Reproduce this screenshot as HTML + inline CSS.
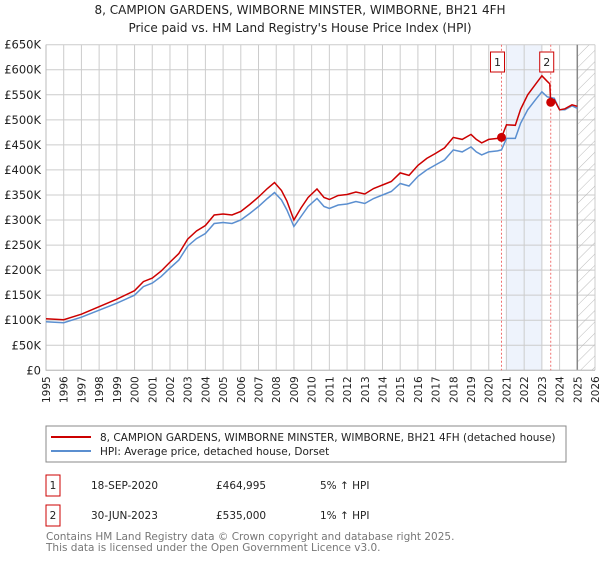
<!DOCTYPE html>
<html><head><meta charset="utf-8"><style>
body{margin:0;background:#fff;font-family:"DejaVu Sans","Liberation Sans",sans-serif;}
svg text{font-family:"DejaVu Sans","Liberation Sans",sans-serif;}
</style></head><body>
<svg id="chart" width="600" height="560" xmlns="http://www.w3.org/2000/svg">
<defs><pattern id="hatch" width="8" height="8" patternUnits="userSpaceOnUse" patternTransform="rotate(45)"><line x1="0" y1="0" x2="0" y2="8" stroke="#bbb" stroke-width="1"/></pattern></defs>
<text x="300" y="14" text-anchor="middle" font-size="12" fill="#222">8, CAMPION GARDENS, WIMBORNE MINSTER, WIMBORNE, BH21 4FH</text>
<text x="300" y="32" text-anchor="middle" font-size="12" fill="#222">Price paid vs. HM Land Registry's House Price Index (HPI)</text>
<g id="grid"></g><g id="marks"></g>
<rect x="46" y="426" width="520" height="36" fill="#fff" stroke="#888"/>
<line x1="51" y1="437" x2="91" y2="437" stroke="#cc0000" stroke-width="2"/>
<text x="100" y="441" font-size="10.5" fill="#222">8, CAMPION GARDENS, WIMBORNE MINSTER, WIMBORNE, BH21 4FH (detached house)</text>
<line x1="51" y1="451" x2="91" y2="451" stroke="#5b8fd0" stroke-width="2"/>
<text x="100" y="455" font-size="10.5" fill="#222">HPI: Average price, detached house, Dorset</text>
<g font-size="10.5" fill="#222">
<rect x="46" y="475" width="14" height="21" fill="none" stroke="#cc0000"/>
<text x="53" y="489" text-anchor="middle">1</text>
<text x="91" y="489">18-SEP-2020</text>
<text x="216" y="489">£464,995</text>
<text x="320" y="489">5% ↑ HPI</text>
<rect x="46" y="505" width="14" height="21" fill="none" stroke="#cc0000"/>
<text x="53" y="519" text-anchor="middle">2</text>
<text x="91" y="519">30-JUN-2023</text>
<text x="216" y="519">£535,000</text>
<text x="320" y="519">1% ↑ HPI</text>
</g>
<text x="46" y="540" font-size="10.5" fill="#777">Contains HM Land Registry data © Crown copyright and database right 2025.</text>
<text x="46" y="551" font-size="10.5" fill="#777">This data is licensed under the Open Government Licence v3.0.</text>
</svg>
<script>
const yearTicks=[1995,1996,1997,1998,1999,2000,2001,2002,2003,2004,2005,2006,2007,2008,2009,2010,2011,2012,2013,2014,2015,2016,2017,2018,2019,2020,2021,2022,2023,2024,2025,2026];
const valueTicks=[0,50000,100000,150000,200000,250000,300000,350000,400000,450000,500000,550000,600000,650000];
const valueLabels=["£0","£50K","£100K","£150K","£200K","£250K","£300K","£350K","£400K","£450K","£500K","£550K","£600K","£650K"];
const hpiDates=[1995,1996,1997,1998,1999,2000,2000.5,2001,2001.5,2002,2002.5,2003,2003.5,2004,2004.5,2005,2005.5,2006,2006.5,2007,2007.5,2007.9,2008.3,2008.6,2009,2009.4,2009.8,2010.3,2010.7,2011,2011.5,2012,2012.5,2013,2013.5,2014,2014.5,2015,2015.5,2016,2016.5,2017,2017.5,2018,2018.5,2019,2019.3,2019.6,2020,2020.5,2020.72,2021,2021.5,2021.8,2022.2,2022.7,2023,2023.3,2023.7,2024,2024.3,2024.7,2025];
const hpiValues=[97,95,106,120,134,150,167,174,187,204,220,248,263,273,293,295,293,300,313,327,343,355,340,320,287,307,327,343,327,323,330,332,337,333,343,350,357,373,368,387,400,410,420,440,436,446,436,430,436,438,440,463,463,493,520,543,556,546,543,520,520,528,523];
const propDates=[1995,1996,1997,1998,1999,2000,2000.5,2001,2001.5,2002,2002.5,2003,2003.5,2004,2004.5,2005,2005.5,2006,2006.5,2007,2007.5,2007.9,2008.3,2008.6,2009,2009.4,2009.8,2010.3,2010.7,2011,2011.5,2012,2012.5,2013,2013.5,2014,2014.5,2015,2015.5,2016,2016.5,2017,2017.5,2018,2018.5,2019,2019.3,2019.6,2020,2020.5,2020.72,2021,2021.5,2021.8,2022.2,2022.7,2023,2023.3,2023.45,2023.5,2023.7,2024,2024.3,2024.7,2025];
const propValues=[103,101,112,127,142,159,177,184,198,216,233,262,278,289,310,312,310,317,331,346,363,375,359,338,300,324,345,362,345,341,349,351,356,352,363,370,377,394,389,409,423,433,444,465,461,471,461,454,461,463,465,490,489,521,550,574,588,577,572,535,540,520,522,530,527];
const saleDates=[2020.72,2023.5];
const salePrices=[464995,535000];
const saleLabels=["1","2"];
const L=46,R=595,T=44.7,B=370.3;
const x=d=>L+(d-1995)/(2026-1995)*(R-L);
const y=v=>B-v/650000*(B-T);
const NS="http://www.w3.org/2000/svg";
function mk(parent,tag,attrs){const e=document.createElementNS(NS,tag);for(const k in attrs)e.setAttribute(k,attrs[k]);parent.appendChild(e);return e;}
const g=document.getElementById('grid'),m=document.getElementById('marks');
let e=mk(g,'rect',{x:x(2020.95),y:T,width:x(2023.0)-x(2020.95),height:B-T,fill:'#eef3fc'});


yearTicks.forEach(t=>{const l=mk(g,'line',{x1:x(t),x2:x(t),y1:T,y2:B,stroke:'#ccc'});


const tx=mk(g,'text',{x:0,y:0,transform:`translate(${x(t)+4},${B+6}) rotate(-90)`,'text-anchor':'end','font-size':'10.5',fill:'#222'});tx.textContent=t;

});
valueTicks.forEach((v,i)=>{const l=mk(g,'line',{x1:L,x2:R,y1:y(v),y2:y(v),stroke:'#ccc'});


const tx=mk(g,'text',{x:L-5,y:y(v)+4,'text-anchor':'end','font-size':'11.5',fill:'#222'});tx.textContent=valueLabels[i];

});
e=mk(g,'rect',{x:x(2025),y:T,width:R-x(2025),height:B-T,fill:'url(#hatch)'});


e=mk(g,'line',{x1:x(2025),x2:x(2025),y1:T,y2:B,stroke:'#888','stroke-width':1.5});


e=mk(g,'path',{d:`M${L},${T}V${B}H${R}`,fill:'none',stroke:'#bbb'});


saleDates.forEach((d,i)=>{const l=mk(m,'line',{x1:x(d),x2:x(d),y1:T,y2:B,stroke:'#f07070','stroke-dasharray':'2,2'});


const r=mk(m,'rect',{x:x(d)-11,y:52,width:14,height:20,fill:'#fff',stroke:'#cc0000'});


const t=mk(m,'text',{x:x(d)-4,y:66,'text-anchor':'middle','font-size':'11',fill:'#222'});t.textContent=saleLabels[i];

});
const line=(ds,vs)=>ds.map((d,i)=>(i?'L':'M')+x(d).toFixed(1)+','+y(vs[i]*1000).toFixed(1)).join('');
e=mk(m,'path',{d:line(hpiDates,hpiValues),fill:'none',stroke:'#5b8fd0','stroke-width':1.5});


e=mk(m,'path',{d:line(propDates,propValues),fill:'none',stroke:'#cc0000','stroke-width':1.5});


saleDates.forEach((d,i)=>{const c=mk(m,'circle',{cx:x(d),cy:y(salePrices[i]),r:4.5,fill:'#cc0000'});

});
</script>
</body></html>
